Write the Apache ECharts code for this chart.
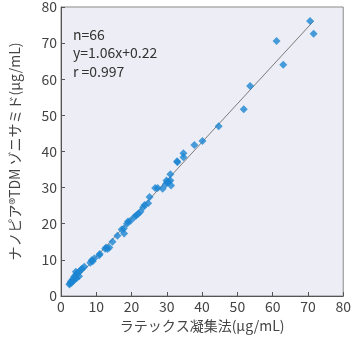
<!DOCTYPE html>
<html>
<head>
<meta charset="utf-8">
<script src="https://cdn.jsdelivr.net/npm/echarts@6/dist/echarts.min.js"></script>
<style>
  html, body { margin: 0; padding: 0; background: #fff; }
</style>
</head>
<body>
<div id="main" style="width: 354px; height: 340px;"></div>
<script>
// measured pairs (latex x, nanopia y)
const latexX = [
  70.6, 71.6, 61.1, 63.0, 53.6, 51.8, 44.7, 40.1, 37.8, 34.7,
  34.7, 32.9, 33.0, 31.0, 31.0, 30.1, 29.7, 31.2, 29.9, 28.8,
  27.4, 26.7, 25.1, 24.7, 23.7, 23.3, 21.9, 21.3, 20.8, 19.7,
  19.0, 18.7, 17.9, 17.8, 17.2, 16.0, 14.6, 13.7, 12.8, 12.5,
  11.0, 10.8, 9.4, 8.7, 8.3, 6.6, 6.0, 5.1, 4.6, 4.2,
  4.2, 3.7, 3.3, 2.8, 2.4, 4.4, 5.1, 3.0, 3.5, 4.0,
  9.0, 13.2, 22.5, 30.5, 5.6, 2.6
]
const nanopiaY = [
  76.1, 72.6, 70.6, 64.0, 58.1, 51.7, 47.0, 42.9, 41.8, 39.5,
  38.4, 37.3, 37.0, 33.7, 32.0, 31.5, 30.9, 30.6, 32.0, 29.7,
  29.9, 29.9, 27.4, 25.7, 25.2, 24.6, 22.8, 22.3, 21.9, 20.8,
  20.6, 20.0, 17.3, 18.7, 18.4, 16.7, 15.0, 13.4, 13.4, 13.1,
  11.6, 11.3, 10.4, 9.9, 9.2, 8.1, 7.6, 6.7, 6.3, 6.7,
  5.8, 5.3, 4.6, 4.0, 3.2, 4.9, 5.5, 3.7, 4.2, 4.7,
  9.6, 13.0, 23.3, 31.6, 7.2, 3.5
]
const fitLine = [[2.2, 2.55], [71.6, 76.1]]
const statText = ['n=66', 'y=1.06x+0.22', 'r =0.997']
const xName = 'ラテックス凝集法(μg/mL)'
const yName = 'ナノピア®TDM ゾニサミド(μg/mL)'

const points = latexX.map((x, i) => [x, nanopiaY[i]])
const font = '"Noto Sans CJK JP", "Noto Sans", sans-serif'

const myChart = echarts.init(document.getElementById('main'))
myChart.setOption({
  animation: false,
  textStyle: { fontFamily: font },
  title: {
    text: statText.join('\n'),
    left: 68,
    top: 20,
    textStyle: { fontSize: 14, fontWeight: 'normal', color: '#333', lineHeight: 18.5, fontFamily: font }
  },
  grid: {
    left: 53, right: 8, top: 6, bottom: 44,
    show: true, backgroundColor: '#edeef5', borderColor: '#8a8a8a', borderWidth: 1
  },
  xAxis: {
    type: 'value', min: 0, max: 80, interval: 10,
    name: xName, nameLocation: 'middle', nameGap: 20,
    nameTextStyle: { fontSize: 14, color: '#444', fontFamily: font },
    axisLine: { lineStyle: { color: '#555' } },
    axisTick: { inside: true, length: 4, lineStyle: { color: '#555' } },
    axisLabel: { fontSize: 14, color: '#444', margin: 4 },
    splitLine: { show: false }
  },
  yAxis: {
    type: 'value', min: 0, max: 80, interval: 10,
    name: yName, nameLocation: 'middle', nameGap: 39,
    nameTextStyle: { fontSize: 14, color: '#444', fontFamily: font },
    axisLine: { show: true, lineStyle: { color: '#555' } },
    axisTick: { show: true, inside: true, length: 4, lineStyle: { color: '#555' } },
    axisLabel: { fontSize: 14, color: '#444', margin: 4 },
    splitLine: { show: false }
  },
  series: [
    {
      type: 'line',
      data: fitLine,
      symbol: 'none',
      lineStyle: { color: '#7a7a7a', width: 1 },
      z: 1
    },
    {
      type: 'scatter',
      data: points,
      symbol: 'diamond',
      symbolSize: 8,
      itemStyle: { color: '#1a84d2' },
      z: 2
    }
  ]
})
</script>
</body>
</html>
